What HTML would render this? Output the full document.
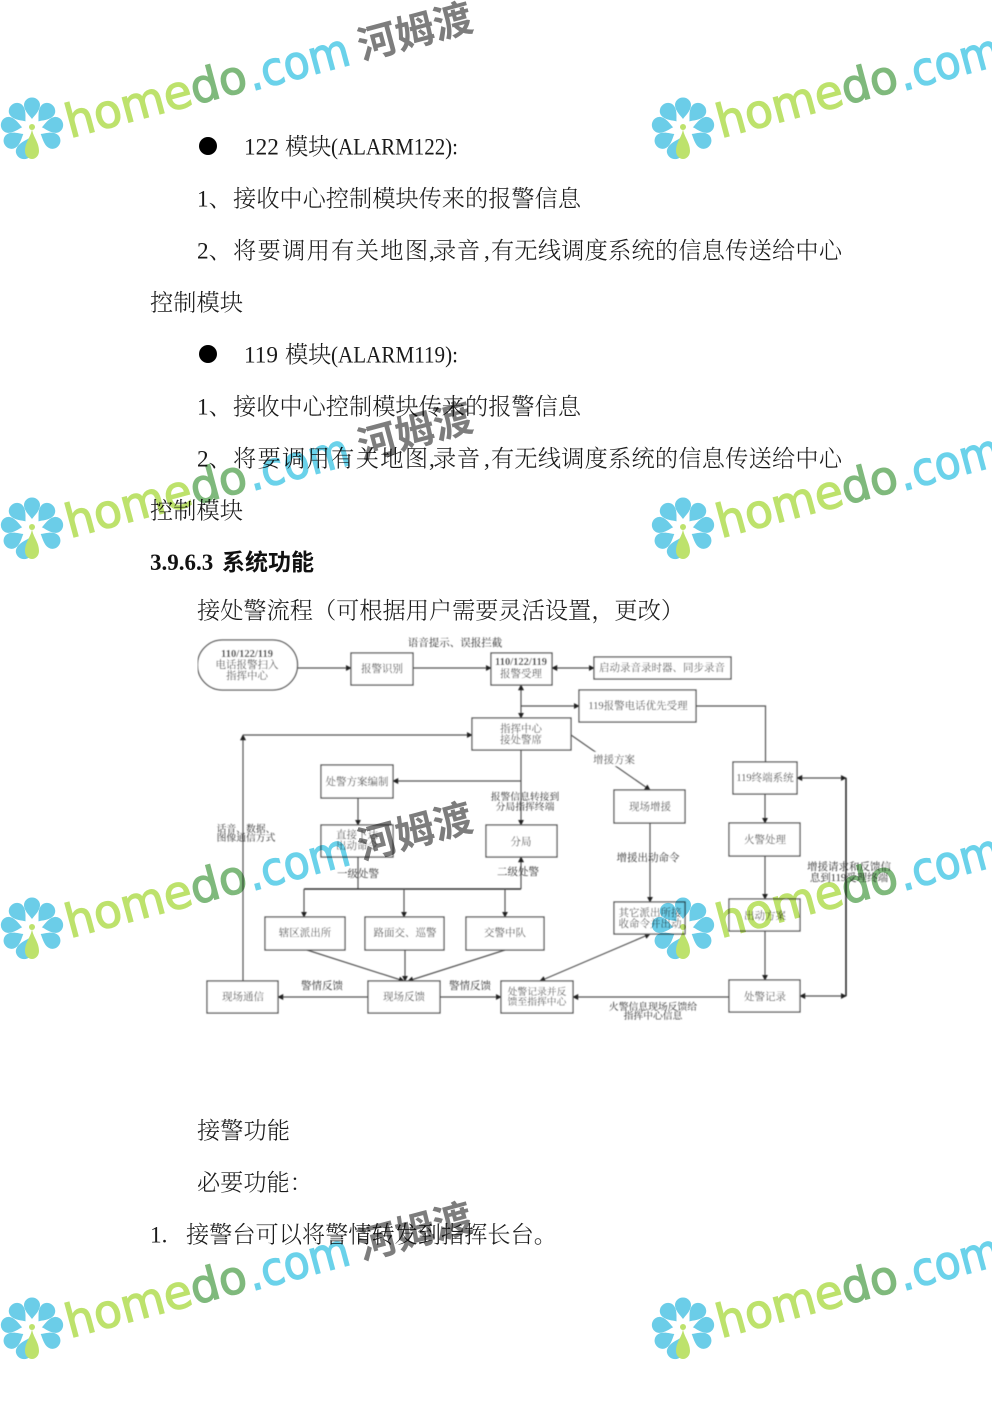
<!DOCTYPE html>
<html lang="zh"><head><meta charset="utf-8"><title>接处警流程</title>
<style>
html,body{margin:0;padding:0;background:#fff}
svg{display:block}
.b{font-family:"Liberation Serif","Noto Serif CJK SC",serif;font-size:23.2px;fill:#1a1a1a;font-weight:300}
.d{font-family:"Liberation Serif","Noto Serif CJK SC",serif;font-size:10.5px;fill:#333;text-anchor:middle}
.t{font-size:9.8px}
.bx{fill:#fff;stroke:#555;stroke-width:1.3}
.l{fill:none;stroke:#555;stroke-width:1.2}
.wm{font-family:"DejaVu Sans",sans-serif;font-size:46px;stroke-width:1.3}
.wc{font-family:"Noto Sans CJK SC",sans-serif;font-size:39px;font-weight:700;fill:#7d7d7d}
.lm{fill:#bde26c;stroke:#bde26c}.gr{fill:#7fb97c;stroke:#7fb97c}.bl{fill:#6bd2ea;stroke:#6bd2ea}
</style></head><body>
<svg width="992" height="1403" viewBox="0 0 992 1403" xmlns="http://www.w3.org/2000/svg">
<defs>
<marker id="a" viewBox="0 0 8 8" refX="7" refY="4" markerWidth="6" markerHeight="6" orient="auto-start-reverse" markerUnits="userSpaceOnUse"><path d="M0 0L8 4L0 8z" fill="#222"/></marker>
<filter id="s" x="0" y="0" width="100%" height="100%"><feGaussianBlur stdDeviation="0.4"/></filter>
<g id="fl">
<g fill="#6bcde8">
<path id="p" d="M0-10C-2-13-8-18-8-24A8 7.500 0 0 1 8-24C8-18 2-13 0-10z"/>
<use href="#p" transform="rotate(40)"/><use href="#p" transform="rotate(80)"/><use href="#p" transform="rotate(120)"/><use href="#p" transform="rotate(200)"/><use href="#p" transform="rotate(240)"/><use href="#p" transform="rotate(280)"/><use href="#p" transform="rotate(320)"/>
</g>
<path d="M0 0C-1 8-7 13-7 22A7 8 0 0 0 7 22C7 13 1 8 0 0z" fill="#bde26c"/>
<circle cx="0" cy="-2" r="3" fill="#bde26c"/>
</g>
</defs>
<rect width="992" height="1403" fill="#fff"/>

<circle cx="208" cy="146" r="9" fill="#000"/>
<g transform="translate(0,-0.6)">
<text class="b" x="244" y="155">122</text><text class="b" x="285" y="155">模块</text>
<text class="b" x="331" y="155" textLength="127" lengthAdjust="spacingAndGlyphs">(ALARM122):</text>
<text class="b" x="197" y="207">1、</text><text class="b" x="233" y="207" textLength="348">接收中心控制模块传来的报警信息</text>
<text class="b" x="197" y="259">2、</text><text class="b" x="233" y="259" textLength="195">将要调用有关地图</text><text class="b" x="429" y="259">,</text><text class="b" x="433" y="259" textLength="47">录音</text><text class="b" x="484" y="259">,</text><text class="b" x="491" y="259" textLength="351">有无线调度系统的信息传送给中心</text>
<text class="b" x="150" y="311" textLength="93">控制模块</text>
<text class="b" x="244" y="363">119</text><text class="b" x="285" y="363">模块</text>
<text class="b" x="331" y="363" textLength="127" lengthAdjust="spacingAndGlyphs">(ALARM119):</text>
<text class="b" x="197" y="415">1、</text><text class="b" x="233" y="415" textLength="348">接收中心控制模块传来的报警信息</text>
<text class="b" x="197" y="467">2、</text><text class="b" x="233" y="467" textLength="195">将要调用有关地图</text><text class="b" x="429" y="467">,</text><text class="b" x="433" y="467" textLength="47">录音</text><text class="b" x="484" y="467">,</text><text class="b" x="491" y="467" textLength="351">有无线调度系统的信息传送给中心</text>
<text class="b" x="150" y="519" textLength="93">控制模块</text>
<text class="b" x="197" y="619" textLength="487">接处警流程（可根据用户需要灵活设置，更改）</text>
<text class="b" x="197" y="1139" textLength="93">接警功能</text>
<text class="b" x="197" y="1191">必要功能：</text>
<text class="b" x="150" y="1243">1.</text><text class="b" x="186" y="1243">接警台可以将警情转发到指挥长台。</text>
</g>
<circle cx="208" cy="354" r="9" fill="#000"/>
<text x="150" y="570" font-family="Liberation Serif" font-weight="700" font-size="23" fill="#111">3.9.6.3</text>
<text x="222" y="570" font-family="Noto Sans CJK SC" font-weight="700" font-size="23" fill="#111">系统功能</text>

<g filter="url(#s)">
<!-- connectors -->
<path class="l" d="M298 668H351" marker-end="url(#a)"/>
<path class="l" d="M413 668H491" marker-end="url(#a)"/>
<path class="l" d="M552 668H594" marker-start="url(#a)" marker-end="url(#a)"/>
<path class="l" d="M521 685V718" marker-start="url(#a)" marker-end="url(#a)"/>
<path class="l" d="M521 706H579" marker-end="url(#a)"/>
<path class="l" d="M696 706H765.500V762"/>
<path class="l" d="M521 750V825" marker-end="url(#a)"/>
<path class="l" d="M521 781H393" marker-end="url(#a)"/>
<path class="l" d="M358 798V825" marker-end="url(#a)"/>
<path class="l" d="M243 981V735" marker-end="url(#a)"/>
<path class="l" d="M243 735H472" marker-end="url(#a)"/>
<path class="l" d="M571 735L650 790" marker-end="url(#a)"/>
<path class="l" d="M650 823V902" marker-end="url(#a)"/>
<path class="l" d="M765 794V823" marker-end="url(#a)"/>
<path class="l" d="M765 856V899" marker-end="url(#a)"/>
<path class="l" d="M765 931V980" marker-end="url(#a)"/>
<path class="l" d="M797 778H846" marker-start="url(#a)" marker-end="url(#a)"/>
<path d="M846 778V996" fill="none" stroke="#222" stroke-width="1.500"/>
<path class="l" d="M800 996H846" marker-start="url(#a)" marker-end="url(#a)"/>
<path class="l" d="M729 997H573" marker-end="url(#a)"/>
<path class="l" d="M358 857V889"/>
<path d="M304 889H521" fill="none" stroke="#333" stroke-width="1.500"/>
<path class="l" d="M304 889V917" marker-end="url(#a)"/>
<path class="l" d="M404 889V917" marker-end="url(#a)"/>
<path class="l" d="M505 889V917" marker-end="url(#a)"/>
<path class="l" d="M521 889V857" marker-end="url(#a)"/>
<path class="l" d="M307 950L404 981" marker-end="url(#a)"/>
<path class="l" d="M405 950V981" marker-end="url(#a)"/>
<path class="l" d="M505 950L408 981" marker-end="url(#a)"/>
<path class="l" d="M368 997H278" marker-end="url(#a)"/>
<path class="l" d="M440 997H501" marker-end="url(#a)"/>
<path class="l" d="M540 981L650 934" marker-start="url(#a)" marker-end="url(#a)"/>

<!-- nodes -->
<rect class="bx" x="197.500" y="640" width="100" height="50" rx="25"/>
<rect class="bx" x="351" y="653" width="62" height="32"/>
<rect class="bx" x="491" y="653" width="61" height="32"/>
<rect class="bx" x="594" y="657" width="137" height="22"/>
<rect class="bx" x="579" y="690" width="117" height="32"/>
<rect class="bx" x="472" y="718" width="99" height="32"/>
<rect class="bx" x="321" y="765" width="72" height="33"/>
<rect class="bx" x="321" y="825" width="72" height="32"/>
<rect class="bx" x="486" y="825" width="71" height="32"/>
<rect class="bx" x="614" y="790" width="71" height="33"/>
<rect class="bx" x="733" y="762" width="64" height="32"/>
<rect class="bx" x="729" y="823" width="71" height="33"/>
<rect class="bx" x="614" y="902" width="71" height="32"/>
<rect class="bx" x="729" y="899" width="71" height="32"/>
<rect class="bx" x="729" y="980" width="71" height="32"/>
<rect class="bx" x="265" y="917" width="80" height="33"/>
<rect class="bx" x="365" y="917" width="79" height="33"/>
<rect class="bx" x="466" y="917" width="78" height="33"/>
<rect class="bx" x="207" y="981" width="71" height="32"/>
<rect class="bx" x="368" y="981" width="72" height="32"/>
<rect class="bx" x="501" y="981" width="72" height="32"/>
<rect x="592" y="752" width="46" height="14" fill="#fff"/>

<!-- labels -->
<text class="d" x="247" y="657" font-weight="700">110/122/119</text>
<text class="d" x="247" y="668">电话报警扫入</text>
<text class="d" x="247" y="679">指挥中心</text>
<text class="d" x="382" y="672">报警识别</text>
<text class="d" x="521" y="665" font-weight="700">110/122/119</text>
<text class="d" x="521" y="677">报警受理</text>
<text class="d" x="662" y="671">启动录音录时器、同步录音</text>
<text class="d" x="455" y="646">语音提示、误报拦截</text>
<text class="d" x="638" y="709">119报警电话优先受理</text>
<text class="d" x="521" y="732">指挥中心</text>
<text class="d" x="521" y="743">接处警席</text>
<text class="d" x="357" y="785">处警方案编制</text>
<text class="d" x="614" y="763">增援方案</text>
<text class="d t" x="525" y="800">报警信息转接到</text>
<text class="d t" x="525" y="810">分局指挥终端</text>
<text class="d" x="650" y="810">现场增援</text>
<text class="d" x="765" y="781">119终端系统</text>
<text class="d t" x="246" y="832">话音、数据、</text>
<text class="d t" x="246" y="841">图像通信方式</text>
<text class="d" x="357" y="838">直接下达</text>
<text class="d" x="357" y="849">出动命令</text>
<text class="d" x="521" y="845">分局</text>
<text class="d" x="358" y="877">一级处警</text>
<text class="d" x="518" y="875">二级处警</text>
<text class="d" x="648" y="861">增援出动命令</text>
<text class="d" x="765" y="843">火警处理</text>
<text class="d" x="849" y="870">增援请求和反馈信</text>
<text class="d" x="849" y="881">息到119受理终端</text>
<text class="d" x="650" y="916">其它派出所接</text>
<text class="d" x="650" y="927">收命令并出动</text>
<text class="d" x="765" y="919">出动方案</text>
<text class="d" x="305" y="936">辖区派出所</text>
<text class="d" x="405" y="936">路面交、巡警</text>
<text class="d" x="505" y="936">交警中队</text>
<text class="d" x="322" y="989">警情反馈</text>
<text class="d" x="470" y="989">警情反馈</text>
<text class="d" x="243" y="1000">现场通信</text>
<text class="d" x="404" y="1000">现场反馈</text>
<text class="d t" x="537" y="995">处警记录并反</text>
<text class="d t" x="537" y="1005">馈至指挥中心</text>
<text class="d" x="765" y="1000">处警记录</text>
<text class="d t" x="653" y="1010">火警信息现场反馈给</text>
<text class="d t" x="653" y="1019">指挥中心信息</text>
</g>

<!-- watermarks -->
<g style="mix-blend-mode:multiply">
<use href="#fl" x="32" y="129"/>
<g transform="translate(70,138) rotate(-15)"><text class="wm" textLength="186" lengthAdjust="spacingAndGlyphs"><tspan class="lm">home</tspan><tspan class="gr">do</tspan></text></g>
<g transform="translate(252,91) rotate(-15)"><text class="wm bl" textLength="104" lengthAdjust="spacingAndGlyphs">.com</text></g>
<g transform="translate(362,60) rotate(-15)"><text class="wc" textLength="117" lengthAdjust="spacingAndGlyphs">河姆渡</text></g>

<use href="#fl" x="683" y="129"/>
<g transform="translate(721,138) rotate(-15)"><text class="wm" textLength="186" lengthAdjust="spacingAndGlyphs"><tspan class="lm">home</tspan><tspan class="gr">do</tspan></text></g>
<g transform="translate(903,91) rotate(-15)"><text class="wm bl" textLength="104" lengthAdjust="spacingAndGlyphs">.com</text></g>

<use href="#fl" x="32" y="529"/>
<g transform="translate(70,538) rotate(-15)"><text class="wm" textLength="186" lengthAdjust="spacingAndGlyphs"><tspan class="lm">home</tspan><tspan class="gr">do</tspan></text></g>
<g transform="translate(252,491) rotate(-15)"><text class="wm bl" textLength="104" lengthAdjust="spacingAndGlyphs">.com</text></g>
<g transform="translate(362,460) rotate(-15)"><text class="wc" textLength="117" lengthAdjust="spacingAndGlyphs">河姆渡</text></g>

<use href="#fl" x="683" y="529"/>
<g transform="translate(721,538) rotate(-15)"><text class="wm" textLength="186" lengthAdjust="spacingAndGlyphs"><tspan class="lm">home</tspan><tspan class="gr">do</tspan></text></g>
<g transform="translate(903,491) rotate(-15)"><text class="wm bl" textLength="104" lengthAdjust="spacingAndGlyphs">.com</text></g>

<use href="#fl" x="32" y="929"/>
<g transform="translate(70,938) rotate(-15)"><text class="wm" textLength="186" lengthAdjust="spacingAndGlyphs"><tspan class="lm">home</tspan><tspan class="gr">do</tspan></text></g>
<g transform="translate(252,891) rotate(-15)"><text class="wm bl" textLength="104" lengthAdjust="spacingAndGlyphs">.com</text></g>
<g transform="translate(362,860) rotate(-15)"><text class="wc" textLength="117" lengthAdjust="spacingAndGlyphs">河姆渡</text></g>

<use href="#fl" x="683" y="929"/>
<g transform="translate(721,938) rotate(-15)"><text class="wm" textLength="186" lengthAdjust="spacingAndGlyphs"><tspan class="lm">home</tspan><tspan class="gr">do</tspan></text></g>
<g transform="translate(903,891) rotate(-15)"><text class="wm bl" textLength="104" lengthAdjust="spacingAndGlyphs">.com</text></g>

<use href="#fl" x="32" y="1329"/>
<g transform="translate(70,1338) rotate(-15)"><text class="wm" textLength="186" lengthAdjust="spacingAndGlyphs"><tspan class="lm">home</tspan><tspan class="gr">do</tspan></text></g>
<g transform="translate(252,1291) rotate(-15)"><text class="wm bl" textLength="104" lengthAdjust="spacingAndGlyphs">.com</text></g>
<g transform="translate(362,1260) rotate(-15)"><text class="wc" textLength="117" lengthAdjust="spacingAndGlyphs">河姆渡</text></g>

<use href="#fl" x="683" y="1329"/>
<g transform="translate(721,1338) rotate(-15)"><text class="wm" textLength="186" lengthAdjust="spacingAndGlyphs"><tspan class="lm">home</tspan><tspan class="gr">do</tspan></text></g>
<g transform="translate(903,1291) rotate(-15)"><text class="wm bl" textLength="104" lengthAdjust="spacingAndGlyphs">.com</text></g>
</g>
</svg>
</body></html>
